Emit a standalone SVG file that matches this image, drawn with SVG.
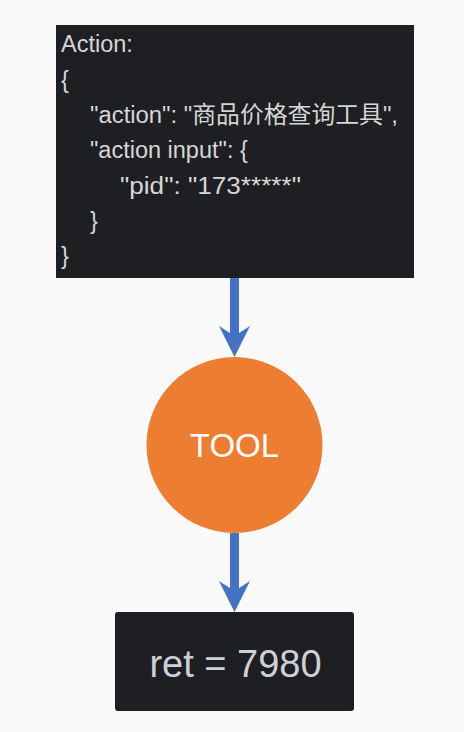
<svg xmlns="http://www.w3.org/2000/svg" width="464" height="732" viewBox="0 0 464 732">
<style>
.code{font-family:"Liberation Sans","Noto Sans CJK SC",sans-serif;font-size:23.5px;fill:#d6d6d6}
.box{fill:#1e1f22}
.arrow{fill:#4472c4}
</style>
<rect width="464" height="732" fill="#f9f9f9"/>
<g id="action">
<rect class="box" x="56" y="25" width="358" height="253"/>
<text class="code" x="61" y="52">Action:</text>
<text class="code" x="61" y="88">{</text>
<text class="code" x="90" y="123" textLength="308" lengthAdjust="spacingAndGlyphs">"action": "商品价格查询工具",</text>
<text class="code" x="90" y="158">"action input": {</text>
<text class="code" x="120" y="194" textLength="181" lengthAdjust="spacingAndGlyphs">"pid": "173*****"</text>
<text class="code" x="90" y="229">}</text>
<text class="code" x="61" y="264">}</text>
</g>
<g id="connectors">
<polygon class="arrow" points="230,278 239,278 239,333 250,326 234.5,357 219,326 230,333"/>
<polygon class="arrow" points="230,533 239,533 239,588 250,581 234.5,612 219,581 230,588"/>
</g>
<g id="tool">
<circle cx="234.5" cy="445" r="88" fill="#ed7d31"/>
<text x="234.5" y="457" text-anchor="middle" font-family="Liberation Sans,sans-serif" font-size="33" fill="#ffffff">TOOL</text>
</g>
<g id="ret">
<rect class="box" x="115" y="612" width="239" height="99" rx="3"/>
<text x="235.5" y="677" text-anchor="middle" font-family="Liberation Sans,sans-serif" font-size="38" fill="#cdd1d6">ret = 7980</text>
</g>
</svg>
